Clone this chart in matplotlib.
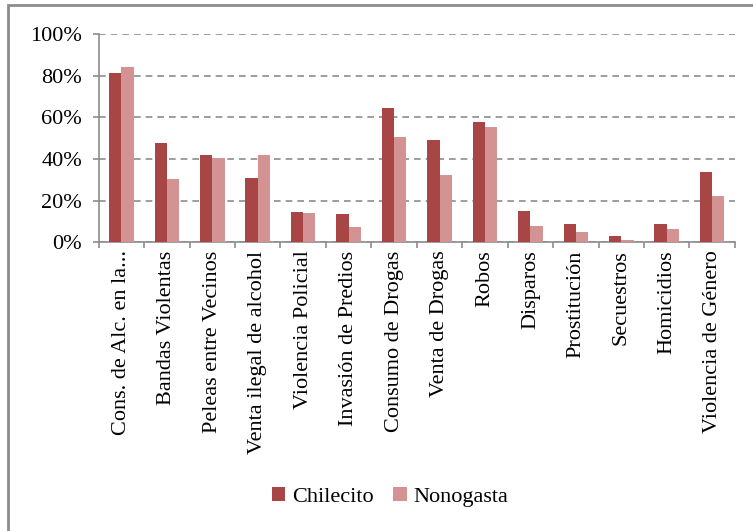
import matplotlib.pyplot as plt
import numpy as np
from matplotlib.ticker import FuncFormatter, MultipleLocator

categories = [
    "Cons. de Alc. en la...", "Bandas Violentas", "Peleas entre Vecinos",
    "Venta ilegal de alcohol", "Violencia Policial", "Invasión de Predios",
    "Consumo de Drogas", "Venta de Drogas", "Robos", "Disparos",
    "Prostitución", "Secuestros", "Homicidios", "Violencia de Género",
]
chilecito = [81.3, 47.6, 42.0, 31.0, 14.6, 13.6, 64.3, 49.0, 57.7, 14.9, 8.8, 3.1, 8.8, 33.8]
nonogasta = [84.0, 30.3, 40.2, 41.8, 14.1, 7.1, 50.3, 32.1, 55.5, 7.9, 4.7, 0.8, 6.3, 22.3]

plt.rcParams["font.family"] = ["Liberation Serif", "DejaVu Serif"]

fig = plt.figure(figsize=(7.53, 5.31), dpi=100)
ax = fig.add_axes([0.131, 0.544, 0.845, 0.392])

x = np.arange(len(categories))
w = 0.27
ax.bar(x - w / 2, chilecito, w, color="#A84646", label="Chilecito", zorder=3)
ax.bar(x + w / 2, nonogasta, w, color="#D49393", label="Nonogasta", zorder=3)

ax.set_xlim(-0.5, len(categories) - 0.5)
ax.set_ylim(0, 100)
ax.yaxis.set_major_locator(MultipleLocator(20))
ax.yaxis.set_major_formatter(FuncFormatter(lambda v, p: f"{v:.0f}%"))
ax.grid(axis="y", color="#8c8c8c", linestyle=(0, (4, 3)), linewidth=1.2, zorder=0)

ax.set_xticks(x)
ax.set_xticklabels(categories, rotation=90, fontsize=16)
ax.set_xticks(np.arange(-0.5, len(categories)), minor=True)
ax.tick_params(axis="x", which="major", length=0, pad=6)
ax.tick_params(axis="x", which="minor", length=4, color="#8c8c8c", width=1.2)
ax.tick_params(axis="y", labelsize=16, length=4, color="#8c8c8c", width=1.2, pad=8)

for s in ["top", "right"]:
    ax.spines[s].set_visible(False)
for s in ["left", "bottom"]:
    ax.spines[s].set_color("#8c8c8c")
    ax.spines[s].set_linewidth(1.2)

fig.legend(loc="center", bbox_to_anchor=(0.518, 0.064), ncol=2, frameon=False,
           fontsize=16, handlelength=0.6, handleheight=0.6, handletextpad=0.3,
           columnspacing=0.9)

border = plt.Rectangle((7.5 / 753, -0.1), 1.2, 1 - 4.5 / 531 + 0.1, transform=fig.transFigure,
                       fill=False, edgecolor="#8c8c8c", linewidth=2, clip_on=False)
fig.patches.append(border)

fig.savefig("out.png", dpi=100)
